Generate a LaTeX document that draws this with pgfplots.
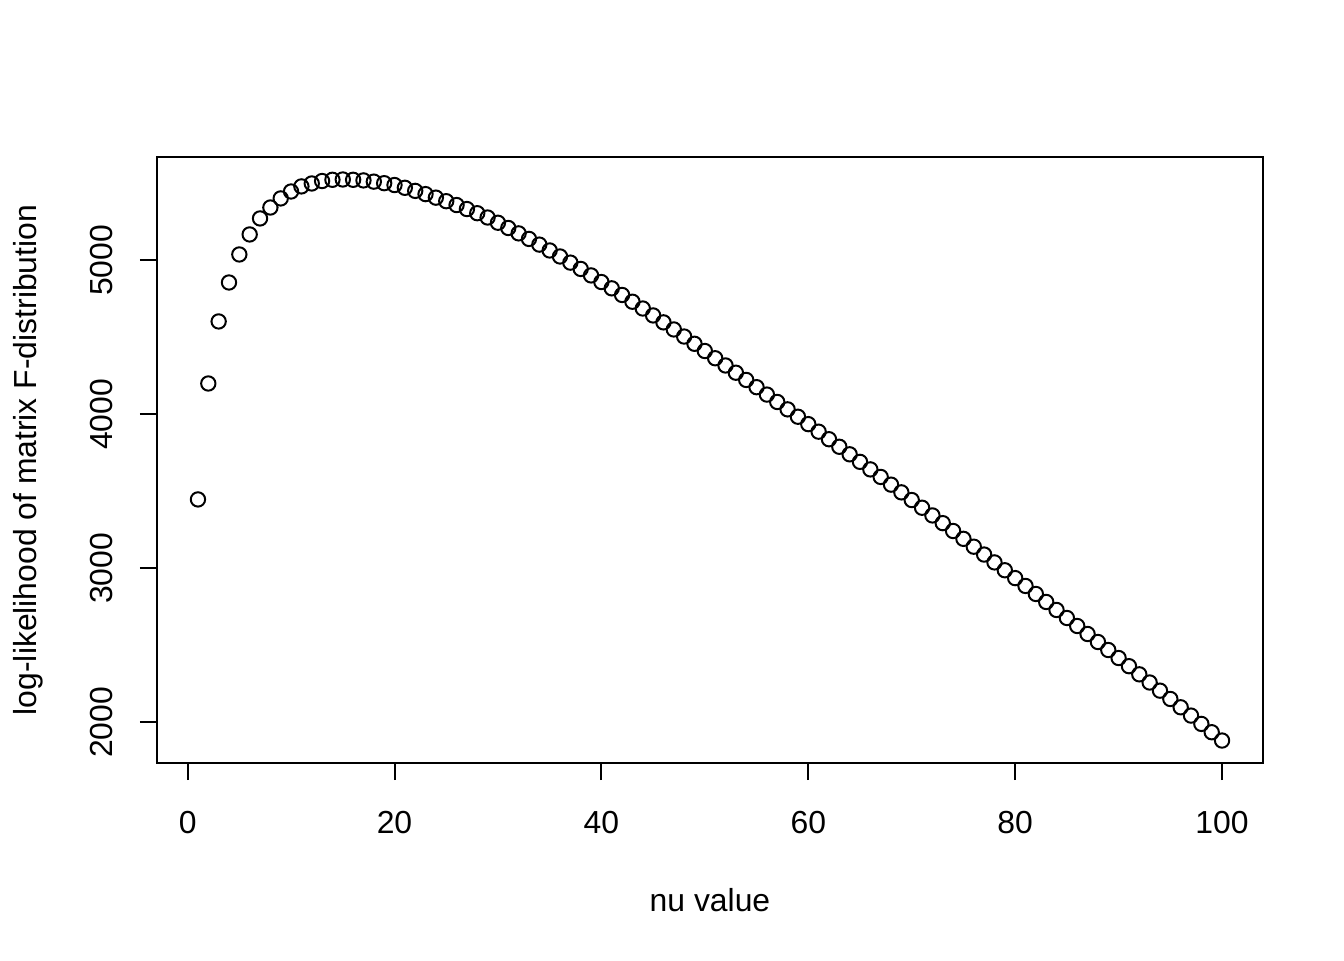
\documentclass[border=0pt]{standalone}
\usepackage{fontspec}
\setmainfont{Liberation Sans}
\usepackage{pgfplots}
\pgfplotsset{compat=1.18}

% log-likelihood values, nu = 1..100
\pgfplotstableread{
nu ll
1 3448
2 4201
3 4604
4 4857
5 5039
6 5169
7 5273
8 5344
9 5403
10 5448
11 5481
12 5500
13 5516
14 5524
15 5526
16 5524
17 5520
18 5512
19 5502
20 5490
21 5472
22 5452
23 5431
24 5408
25 5385
26 5360
27 5334
28 5307
29 5279
30 5245
31 5211
32 5176
33 5140
34 5103
35 5065
36 5026
37 4986
38 4945
39 4903
40 4860
41 4819
42 4776
43 4732
44 4688
45 4643
46 4598
47 4552
48 4506
49 4459
50 4412
51 4365
52 4318
53 4271
54 4224
55 4177
56 4129
57 4081
58 4033
59 3985
60 3937
61 3888
62 3839
63 3790
64 3741
65 3692
66 3643
67 3594
68 3544
69 3494
70 3444
71 3394
72 3344
73 3294
74 3243
75 3192
76 3141
77 3090
78 3039
79 2988
80 2937
81 2886
82 2834
83 2782
84 2730
85 2678
86 2626
87 2574
88 2522
89 2470
90 2418
91 2365
92 2312
93 2259
94 2206
95 2152
96 2098
97 2044
98 1990
99 1936
100 1882
}\lldata

\begin{document}
\begin{tikzpicture}
\begin{axis}[
    scale only axis,
    width=416.3pt,
    height=228.1pt,
    xmin=-2.96, xmax=103.96,
    ymin=1736, ymax=5672,
    xtick={0,20,...,100},
    ytick={2000,3000,4000,5000},
    xtick pos=bottom,
    ytick pos=left,
    tick align=outside,
    major tick length=6.4pt,
    axis line style={line width=0.75pt},
    every tick/.style={black, line width=0.75pt},
    font=\fontsize{12}{14}\selectfont,
    /pgf/number format/assume math mode=true,
    /pgf/number format/1000 sep={},
    xticklabel style={anchor=base, yshift=-20.3pt},
    yticklabel style={xshift=-10.5pt, rotate=90, anchor=base},
    xlabel={nu value},
    ylabel={log-likelihood of matrix F-distribution},
    every axis x label/.style={at={(rel axis cs:0.5,-0.2442)}, anchor=base},
    every axis y label/.style={at={(rel axis cs:-0.1093,0.5)}, rotate=90, anchor=base},
    clip=false,
]
\addplot[only marks, mark=o, mark size=2.7pt, mark options={line width=0.75pt, black}] table[x=nu, y=ll] {\lldata};
\path (rel axis cs:-0.14195,-0.32508) rectangle (rel axis cs:1.07324,1.25908);
\end{axis}
\end{tikzpicture}
\end{document}
